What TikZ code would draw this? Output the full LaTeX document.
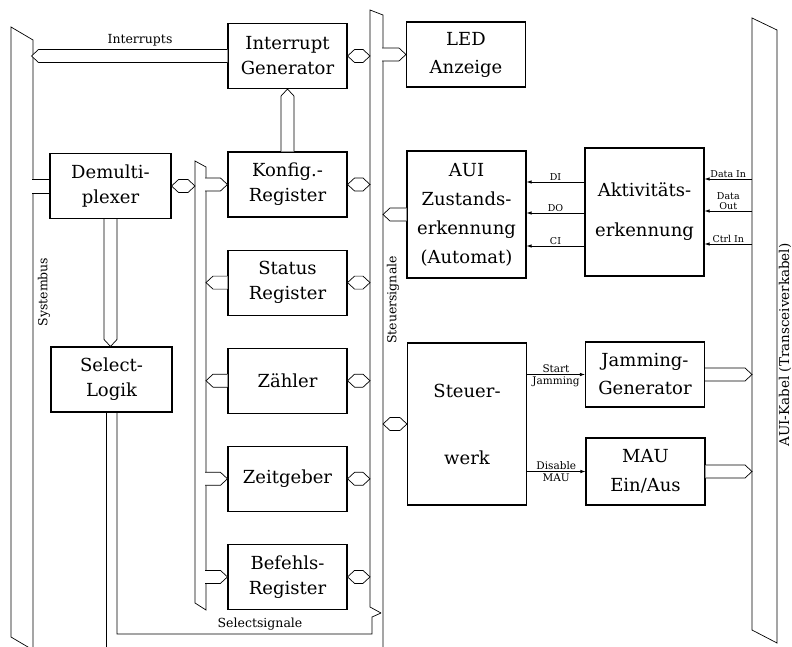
\documentclass[tikz,border=0pt]{standalone}
\usepackage{fontspec}
\setmainfont{DejaVu Serif}
\usetikzlibrary{arrows.meta, positioning, calc}

\newcommand{\blockfont}{\fontsize{18}{25}\selectfont}
\newcommand{\lblfont}{\fontsize{12.5}{14}\selectfont}
\newcommand{\sigfont}{\fontsize{10.5}{11}\selectfont}
\newcommand{\datafont}{\fontsize{9.5}{10}\selectfont}

% bus link, pointed at both ends
\newcommand{\hexlink}[2]{%
  \path (#1) coordinate (la) (#2) coordinate (lb);
  \path ($(la)!7pt!(lb)$) coordinate (ha) ($(lb)!7pt!(la)$) coordinate (hb);
  \draw[link] (la) -- ($(ha)!6.5pt!90:(lb)$) -- ($(hb)!6.5pt!-90:(la)$) -- (lb)
    -- ($(hb)!6.5pt!90:(la)$) -- ($(ha)!6.5pt!-90:(lb)$) -- cycle;
}
% bus link, open at #1, pointed at #2
\newcommand{\arrlink}[2]{%
  \path (#1) coordinate (la) (#2) coordinate (lb);
  \path ($(lb)!7pt!(la)$) coordinate (hb);
  \fill[white] ($(la)!6.5pt!90:(lb)$) -- ($(hb)!6.5pt!-90:(la)$) -- (lb)
    -- ($(hb)!6.5pt!90:(la)$) -- ($(la)!6.5pt!-90:(lb)$) -- cycle;
  \draw[link] ($(la)!6.5pt!90:(lb)$) -- ($(hb)!6.5pt!-90:(la)$) -- (lb)
    -- ($(hb)!6.5pt!90:(la)$) -- ($(la)!6.5pt!-90:(lb)$);
}
% bus link, open at both ends
\newcommand{\plainlink}[2]{%
  \path (#1) coordinate (la) (#2) coordinate (lb);
  \fill[white] ($(la)!7pt!90:(lb)$) -- ($(lb)!7pt!-90:(la)$)
    -- ($(lb)!7pt!90:(la)$) -- ($(la)!7pt!-90:(lb)$) -- cycle;
  \draw[link] ($(la)!7pt!90:(lb)$) -- ($(lb)!7pt!-90:(la)$);
  \draw[link] ($(la)!7pt!-90:(lb)$) -- ($(lb)!7pt!90:(la)$);
}

\begin{document}
\begin{tikzpicture}[
  x=1pt, y=-1pt,
  node distance=32pt,
  box/.style={draw, line width=1.1pt, minimum width=119pt, minimum height=65pt,
    align=center, font=\blockfont, inner sep=0pt},
  bus/.style={draw, line width=0.7pt},
  link/.style={draw, line width=0.7pt, fill=white},
  sig/.style={-{Latex[length=5pt,width=3.5pt]}, line width=0.7pt},
  lbl/.style={font=\lblfont, inner sep=1.5pt},
  sigl/.style={font=\sigfont, inner sep=1.5pt, align=center},
  datal/.style={font=\datafont, inner sep=1.5pt, align=center}
]
\path[use as bounding box] (0,0) rectangle (792,647);
\clip (0,0) rectangle (792,647);

% bus edges
\coordinate (sysR) at (33,0);
\coordinate (ibL) at (195,0);
\coordinate (ibR) at (206,0);
\coordinate (ssL) at (370,0);
\coordinate (ssR) at (383,0);
\coordinate (kabL) at (752,0);

% buses
\draw[bus] (33,660) -- (33,40) -- (11,27) -- (11,637) -- (33,650);
\draw[bus] (195,161) -- (206,167) -- (206,610) -- (195,603) -- cycle;
\draw[bus] (383,660) -- (383,15) -- (370,10) -- (370,607) -- (381,613);
\draw[bus] (752,18) -- (777,30) -- (777,643) -- (752,630) -- cycle;

% blocks
\node[box] (igen) at (287.5,56) {Interrupt\\Generator};
\node[box] (led) at (466,54.5) {LED\\[3pt]Anzeige};
\node[box, minimum width=121pt] (demux) at (110.5,186) {Demulti-\\plexer};
\node[box, minimum width=121pt] (select) at (111.5,379.5) {Select-\\Logik};
\node[box] (konfig) at (287.5,184.5) {Konfig.-\\Register};
\node[box, below=of konfig] (status) {Status\\Register};
\node[box, below=of status] (zaehler) {Zähler};
\node[box, below=of zaehler] (zeit) {Zeitgeber};
\node[box, below=of zeit] (befehl) {Befehls-\\Register};
\node[box, minimum height=127pt] (aui) at (466.5,214.5)
  {AUI\\[4pt]Zustands-\\[4pt]erkennung\\[4pt](Automat)};
\node[box, minimum height=128pt] (akt) at (644.5,212)
  {Aktivitäts-\\[15pt]erkennung};
\node[box, minimum height=162pt] (steuer) at (467,424) {Steuer-\\[42pt]werk};
\node[box] (jam) at (645,374.5) {Jamming-\\[3pt]Generator};
\node[box, minimum height=67pt] (mau) at (645.5,471.5) {MAU\\[4pt]Ein/Aus};

% bus links
\arrlink{igen.west}{$(igen.west -| sysR)+(-1.5,0)$}
\hexlink{igen.east}{igen.east -| ssL}
\arrlink{$(led.west -| ssR)+(-1,0)$}{led.west}
\arrlink{konfig.north}{igen.south}
\plainlink{$(demux.west -| sysR)+(-1,0)$}{demux.west}
\hexlink{demux.east}{demux.east -| ibL}
\arrlink{$(konfig.west -| ibR)+(-1,0)$}{konfig.west}
\hexlink{konfig.east}{konfig.east -| ssL}
\arrlink{status.west}{status.west -| ibR}
\hexlink{status.east}{status.east -| ssL}
\arrlink{zaehler.west}{zaehler.west -| ibR}
\hexlink{zaehler.east}{zaehler.east -| ssL}
\arrlink{$(zeit.west -| ibR)+(-1,0)$}{zeit.west}
\hexlink{zeit.east}{zeit.east -| ssL}
\arrlink{$(befehl.west -| ibR)+(-1,0)$}{befehl.west}
\hexlink{befehl.east}{befehl.east -| ssL}
\arrlink{demux.south}{demux.south |- select.north}
\arrlink{aui.west}{aui.west -| ssR}
\hexlink{steuer.west -| ssR}{steuer.west}
\arrlink{jam.east}{jam.east -| kabL}
\arrlink{mau.east}{mau.east -| kabL}

% Selectsignale
\draw[bus] ($(select.south)+(-5,0)$) -- ++(0,250);
\draw[bus] ($(select.south)+(5.5,0)$) |- (372,634) -- (372,617) -- (381,613);

% signals
\foreach \dy/\txt in {30/DI, -1/DO, -34/CI}{
  \path ([yshift=\dy pt]akt.west) coordinate (s);
  \draw[sig] (s) -- (s -| aui.east) node[midway, above, datal] (l\txt) {\txt};
}
\foreach \dy/\txt/\nm in {33/{Data In}/di, 1/{Data\\Out}/do, -32/{Ctrl In}/ci}{
  \path ([yshift=\dy pt]akt.east -| kabL) coordinate (s);
  \draw[sig] (s) -- (s -| akt.east) node[midway, above, datal] (k\nm) {\txt};
}
\draw[sig] (steuer.east |- jam.west) -- (jam.west)
  node[midway, above, sigl] (start) {Start}
  node[midway, below, sigl] (jamming) {Jamming};
\draw[sig] (steuer.east |- mau.west) -- (mau.west)
  node[midway, above, sigl] (disable) {Disable}
  node[midway, below, sigl] (maul) {MAU};

% labels
\node[lbl] (interrupts) at (140,40) {Interrupts};
\node[lbl, rotate=90] (sysbus) at (44,292) {Systembus};
\node[lbl, rotate=90] (ssbus) at (393,300) {Steuersignale};
\node[lbl, rotate=90, font=\fontsize{13.5}{15}\selectfont] (kabel) at (785,345)
  {AUI-Kabel (Transceiverkabel)};
\node[lbl] (selsig) at (260,624) {Selectsignale};
\end{tikzpicture}
\end{document}
